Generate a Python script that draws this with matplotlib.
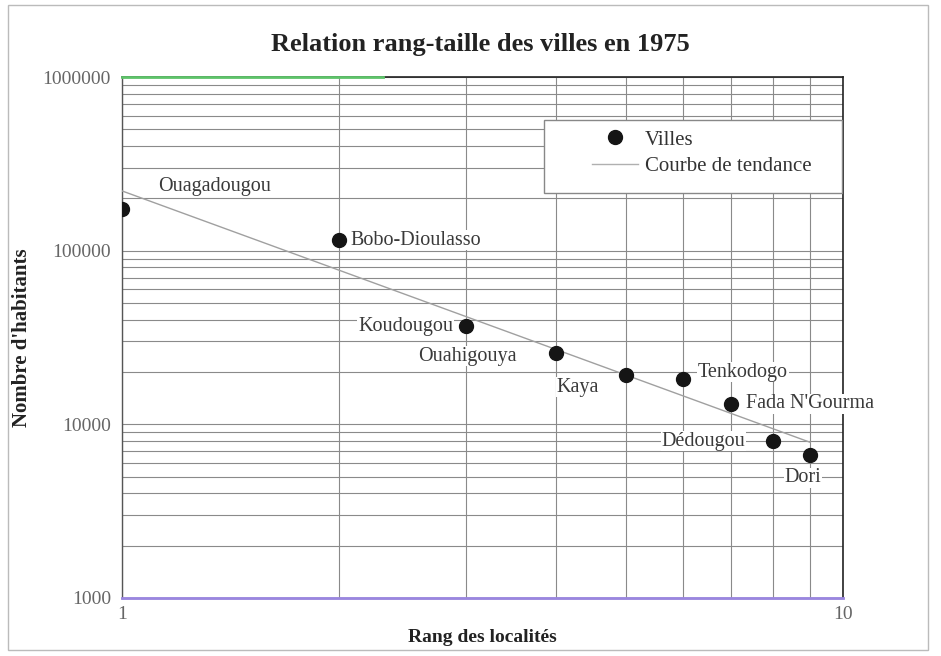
import numpy as np
import matplotlib
matplotlib.use("Agg")
import matplotlib.pyplot as plt
from matplotlib.lines import Line2D
from matplotlib.ticker import NullFormatter

plt.rcParams['font.family'] = ['Liberation Serif', 'DejaVu Serif']

villes = ["Ouagadougou", "Bobo-Dioulasso", "Koudougou", "Ouahigouya", "Kaya",
          "Tenkodogo", "Fada N'Gourma", "Dédougou", "Dori"]
rangs = [1, 2, 3, 4, 5, 6, 7, 8, 9]
habitants = [174000, 115000, 36800, 25700, 19200, 18200, 13100, 8000, 6660]

# label offsets in pixels and alignment
offsets = [(36, 22, 'left'), (11, 0, 'left'), (-13, 0, 'right'), (-39, -3, 'right'),
           (-48, -12, 'center'), (15, 7, 'left'), (15, 0, 'left'), (-28, 0, 'right'),
           (-7, -23, 'center')]

fig = plt.figure(figsize=(9.41, 6.56), dpi=100)
ax = fig.add_axes([122/941, 1-598/656, (843-122)/941, (598-77)/656])
ax.set_xscale('log')
ax.set_yscale('log')
ax.set_xlim(1, 10)
ax.set_ylim(1000, 1000000)

# grid
ax.grid(True, which='both', axis='y', color='#8a8a8a', linewidth=0.8)
ax.grid(True, which='both', axis='x', color='#8a8a8a', linewidth=0.8)
ax.set_axisbelow(True)

# trend line (power fit in log space)
lx = np.log10(rangs)
ly = np.log10(habitants)
b, a = np.polyfit(lx, ly, 1)
xt = np.array([rangs[0], rangs[-1]], dtype=float)
ax.plot(xt, 10**(a + b*np.log10(xt)), color='#a0a0a0', linewidth=1.0, zorder=3)

ax.scatter(rangs, habitants, s=100, color='#151515', zorder=4)

for v, x, y, (dx, dy, ha) in zip(villes, rangs, habitants, offsets):
    ax.annotate(v, (x, y), xytext=(dx, dy), textcoords='offset pixels',
                ha=ha, va='center', fontsize=14.5, color='#3a3a3a', zorder=5,
                bbox=dict(facecolor='white', edgecolor='none', pad=0.5))

# scan-like coloured edge lines
ax.plot([1, 2.3], [1000000, 1000000], color='#5ec46a', linewidth=2.0, zorder=6, clip_on=False)
ax.plot([1, 10], [1000, 1000], color='#9a86e0', linewidth=2.0, zorder=6, clip_on=False)

for s in ['top', 'right']:
    ax.spines[s].set_color('#222222')
    ax.spines[s].set_linewidth(1.2)
for s in ['left', 'bottom']:
    ax.spines[s].set_color('#555555')
    ax.spines[s].set_linewidth(1.0)

ax.set_xticks([1, 10])
ax.set_xticklabels(['1', '10'])
ax.xaxis.set_minor_formatter(NullFormatter())
ax.yaxis.set_minor_formatter(NullFormatter())
ax.set_yticks([1000, 10000, 100000, 1000000])
ax.set_yticklabels(['1000', '10000', '100000', '1000000'])
ax.tick_params(axis='both', which='both', length=0, labelsize=14, labelcolor='#666666', pad=8)
ax.tick_params(axis='x', pad=6)

ax.set_xlabel("Rang des localités", fontsize=14, fontweight='bold', color='#222222', labelpad=4)
ax.set_ylabel("Nombre d'habitants", fontsize=15, fontweight='bold', color='#222222')
ax.yaxis.set_label_coords(-0.125, 0.5)
fig.text(480/941, 1-45/656, "Relation rang-taille des villes en 1975", ha='center', va='center',
         fontsize=19, fontweight='bold', color='#222222')

# legend box drawn manually, legend entries inside
ax.add_patch(plt.Rectangle(((544-122)/721, 1-(193-77)/521), (842-544)/721, (193-120)/521,
                           transform=ax.transAxes, facecolor='white', edgecolor='#888888',
                           linewidth=1.0, zorder=7))
handles = [Line2D([], [], marker='o', linestyle='none', color='#151515', markersize=10),
           Line2D([], [], color='#b0b0b0', linewidth=1.0)]
leg = ax.legend(handles, ['Villes', 'Courbe de tendance'], loc='upper left',
                bbox_to_anchor=((592-122)/721, 1-(130-77)/521), fontsize=15,
                frameon=False, handlelength=2.2, handletextpad=0.35,
                labelspacing=0.35, borderaxespad=0, borderpad=0)
leg.set_zorder(8)
for t in leg.get_texts():
    t.set_color('#333333')

# figure frame
fig.patches.append(plt.Rectangle((8/941, 1-650/656), (928-8)/941, (650-5)/656,
                                 transform=fig.transFigure, fill=False,
                                 edgecolor='#bbbbbb', linewidth=1.0))

fig.savefig('out.png', dpi=100)
